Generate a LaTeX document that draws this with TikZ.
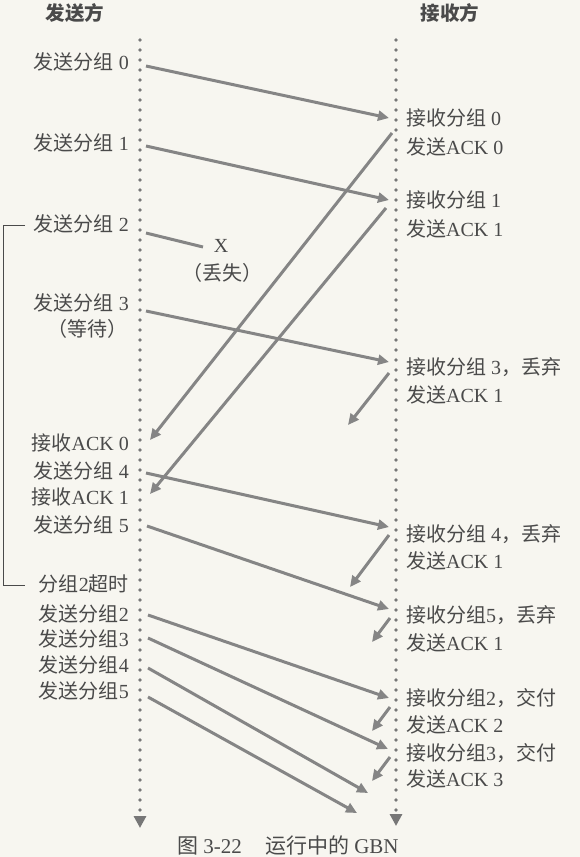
\documentclass[tikz,border=0pt]{standalone}
\usepackage{fontspec}
\setmainfont{Liberation Serif}
\newfontfamily\cjk{Noto Sans CJK SC}
\usetikzlibrary{arrows.meta}
\newcommand\zh[1]{{\cjk #1}}
\definecolor{bg}{HTML}{F7F6F0}
\definecolor{txt}{HTML}{4A4A4A}
\definecolor{arr}{HTML}{858585}
\definecolor{dotc}{HTML}{777777}
\tikzset{
  lbl/.style={inner sep=0pt, text=txt, font=\fontsize{20}{22}\selectfont},
  lleft/.style={lbl, anchor=east},
  lright/.style={lbl, anchor=west},
  head/.style={lbl, font=\fontsize{19.5}{22}\selectfont\cjk\bfseries},
  msg/.style={draw=arr, line width=3pt, -{Triangle[length=11pt,width=10pt]}},
  lostmsg/.style={draw=arr, line width=3pt},
  timeline/.style={draw=dotc, line width=3.8pt, line cap=round, dash pattern=on 0pt off 10pt, -{Triangle[length=12pt,width=12pt,fill=dotc]}},
  bracketline/.style={draw=txt, line width=0.9pt},
}
\begin{document}
\begin{tikzpicture}[x=1pt,y=-1pt]
\fill[bg] (0,0) rectangle (580,857);
\useasboundingbox (0,0) rectangle (580,857);

% headers
\node[head] (hs) at (75,13) {发送方};
\node[head] (hr) at (450,13) {接收方};

% timelines
\coordinate (lt) at (140,40);
\coordinate (lb) at (140,828);
\coordinate (rt) at (396,40);
\coordinate (rb) at (396,826);
\draw[timeline] (lt) -- (lb);
\draw[timeline] (rt) -- (rb);

% left labels
\node[lleft] (s0) at (129,62) {\zh{发送分组} 0};
\node[lleft] (s1) at (129,143) {\zh{发送分组} 1};
\node[lleft] (s2) at (129,224) {\zh{发送分组} 2};
\node[lleft] (s3) at (129,303) {\zh{发送分组} 3};
\node[lleft] (wt) at (128,329) {\zh{（等待）}};
\node[lleft] (ra0) at (129,443) {\zh{接收}ACK 0};
\node[lleft] (s4) at (129,471) {\zh{发送分组} 4};
\node[lleft] (ra1) at (129,497) {\zh{接收}ACK 1};
\node[lleft] (s5) at (129,525) {\zh{发送分组} 5};
\node[lleft] (tmo) at (129,584) {\zh{分组}2\zh{超时}};
\node[lleft] (rs2) at (129,614) {\zh{发送分组}2};
\node[lleft] (rs3) at (129,639) {\zh{发送分组}3};
\node[lleft] (rs4) at (129,665) {\zh{发送分组}4};
\node[lleft] (rs5) at (129,691) {\zh{发送分组}5};

% right labels
\node[lright] (r0) at (406,118) {\zh{接收分组} 0};
\node[lright] (a0) at (406,147) {\zh{发送}ACK 0};
\node[lright] (r1) at (406,200) {\zh{接收分组} 1};
\node[lright] (a1) at (406,229) {\zh{发送}ACK 1};
\node[lright] (r3) at (406,367) {\zh{接收分组} 3\zh{，丢弃}};
\node[lright] (a1b) at (406,395) {\zh{发送}ACK 1};
\node[lright] (r4) at (406,534) {\zh{接收分组} 4\zh{，丢弃}};
\node[lright] (a1c) at (406,561) {\zh{发送}ACK 1};
\node[lright] (r5) at (406,615) {\zh{接收分组}5\zh{，丢弃}};
\node[lright] (a1d) at (406,643) {\zh{发送}ACK 1};
\node[lright] (rr2) at (406,698) {\zh{接收分组}2\zh{，交付}};
\node[lright] (a2) at (406,725) {\zh{发送}ACK 2};
\node[lright] (rr3) at (406,753) {\zh{接收分组}3\zh{，交付}};
\node[lright] (a3) at (406,779) {\zh{发送}ACK 3};

% lost packet
\node[lbl] (xl) at (221,246) {X};
\node[lbl] (lost) at (222,273) {\zh{（丢失）}};

% arrow endpoints
\coordinate (p0a) at (146,66);  \coordinate (p0b) at (389,118);
\coordinate (p1a) at (146,146); \coordinate (p1b) at (389,200);
\coordinate (p2a) at (146,233); \coordinate (p2b) at (203,247);
\coordinate (k0a) at (392,133); \coordinate (k0b) at (150,440);
\coordinate (k1a) at (386,208); \coordinate (k1b) at (150,494);
\coordinate (p3a) at (146,311); \coordinate (p3b) at (389,362);
\coordinate (k1ba) at (389,373); \coordinate (k1bb) at (348,425);
\coordinate (p4a) at (146,473); \coordinate (p4b) at (389,527);
\coordinate (k1ca) at (389,535); \coordinate (k1cb) at (350,587);
\coordinate (p5a) at (147,526); \coordinate (p5b) at (389,609);
\coordinate (k1da) at (390,618); \coordinate (k1db) at (372,642);
\coordinate (q2a) at (148,615); \coordinate (q2b) at (389,698);
\coordinate (k2a) at (390,707); \coordinate (k2b) at (372,731);
\coordinate (q3a) at (148,638); \coordinate (q3b) at (388,749);
\coordinate (k3a) at (390,757); \coordinate (k3b) at (372,781);
\coordinate (q4a) at (148,668); \coordinate (q4b) at (368,793);
\coordinate (q5a) at (148,697); \coordinate (q5b) at (357,813);

\draw[msg] (p0a) -- (p0b);
\draw[msg] (p1a) -- (p1b);
\draw[lostmsg] (p2a) -- (p2b);
\draw[msg] (k0a) -- (k0b);
\draw[msg] (k1a) -- (k1b);
\draw[msg] (p3a) -- (p3b);
\draw[msg] (k1ba) -- (k1bb);
\draw[msg] (p4a) -- (p4b);
\draw[msg] (k1ca) -- (k1cb);
\draw[msg] (p5a) -- (p5b);
\draw[msg] (k1da) -- (k1db);
\draw[msg] (q2a) -- (q2b);
\draw[msg] (k2a) -- (k2b);
\draw[msg] (q3a) -- (q3b);
\draw[msg] (k3a) -- (k3b);
\draw[msg] (q4a) -- (q4b);
\draw[msg] (q5a) -- (q5b);

% timeout bracket
\coordinate (bt) at (25,225);
\coordinate (bb) at (25,585);
\draw[bracketline] (bt) -- (3,225) -- (3,585) -- (bb);

% caption
\node[lbl, font=\fontsize{21}{23}\selectfont, anchor=west] (cap) at (177,846) {\zh{图} 3-22\hspace{1.1em}\zh{运行中的} GBN};
\end{tikzpicture}
\end{document}
